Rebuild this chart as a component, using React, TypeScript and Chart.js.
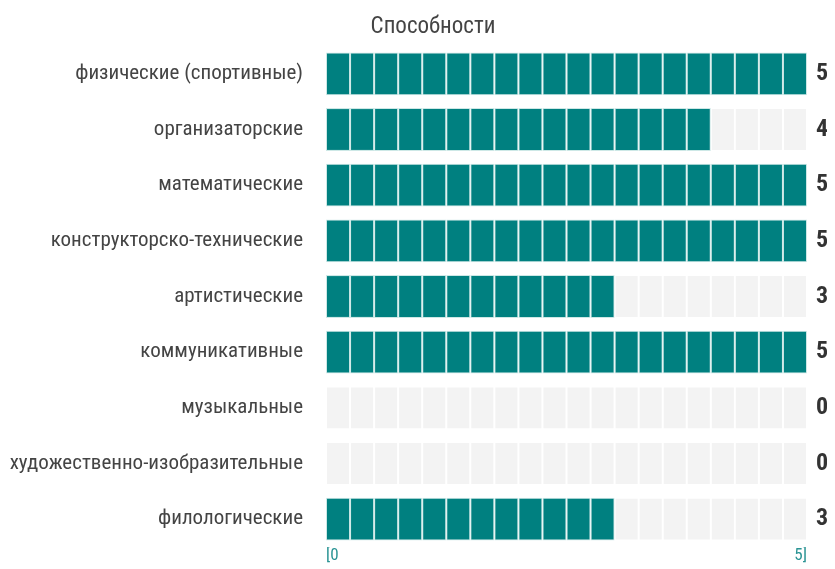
import React, { useEffect, useRef } from "react";
import { Chart, registerables } from "chart.js";
Chart.register(...registerables);

const categories = [
  "физические (спортивные)",
  "организаторские",
  "математические",
  "конструкторско-технические",
  "артистические",
  "коммуникативные",
  "музыкальные",
  "художественно-изобразительные",
  "филологические",
];
const values = [5, 4, 5, 5, 3, 5, 0, 0, 3];
const titleText = "Способности";
const axisMin = 0;
const axisMax = 5;
const cellsPerUnit = 4;

const TEAL = "#008080";
const TEAL_EDGE = "#cde8e6";
const GREY = "#f3f3f3";
const FONT = "'Roboto Condensed', Roboto, sans-serif";

export default function App() {
  const ref = useRef<HTMLCanvasElement>(null);
  useEffect(() => {
    const cells = (axisMax - axisMin) * cellsPerUnit;
    const step = 1 / cellsPerUnit;
    const datasets = [];
    for (let i = 0; i < cells; i++) {
      const filled = values.map((v) => v >= (i + 1) * step - 1e-9);
      datasets.push({
        data: categories.map(() => step),
        backgroundColor: filled.map((f) => (f ? TEAL : GREY)),
        borderColor: filled.map((f) => (f ? TEAL_EDGE : "#ffffff")),
        borderWidth: 1,
        borderSkipped: false as const,
        barPercentage: 0.77,
        categoryPercentage: 1,
      });
    }
    const labelsPlugin = {
      id: "extras",
      afterDatasetsDraw(chart: any) {
        const { ctx, chartArea, scales } = chart;
        ctx.save();
        ctx.fillStyle = "#333333";
        ctx.font = `bold 24px ${FONT}`;
        ctx.textAlign = "center";
        ctx.textBaseline = "middle";
        values.forEach((v, i) => {
          ctx.fillText(String(v), chartArea.right + 15, scales.y.getPixelForValue(i));
        });
        ctx.fillStyle = "#444444";
        ctx.font = `23px ${FONT}`;
        ctx.fillText(titleText, 425, 19);
        ctx.restore();
      },
    };
    const chart = new Chart(ref.current!, {
      type: "bar",
      data: { labels: categories, datasets: datasets as any },
      options: {
        indexAxis: "y",
        animation: false,
        responsive: true,
        maintainAspectRatio: false,
        events: [],
        layout: { padding: { top: 38, right: 20, bottom: 5, left: 0 } },
        plugins: { legend: { display: false }, tooltip: { enabled: false }, title: { display: false } },
        scales: {
          x: {
            stacked: true,
            min: axisMin,
            max: axisMax,
            grid: { display: false, drawTicks: false },
            border: { display: false },
            ticks: {
              stepSize: axisMax - axisMin,
              align: "inner",
              padding: 0,
              maxRotation: 0,
              color: "#2a9494",
              font: { size: 17, lineHeight: 1, family: FONT },
              callback: (v: any) => (v === axisMin ? "[" + axisMin : v === axisMax ? axisMax + "]" : ""),
            },
          },
          y: {
            stacked: true,
            grid: { display: false, drawTicks: false },
            border: { display: false },
            afterFit: (scale: any) => {
              scale.width = 318;
              scale.paddingTop = 0;
              scale.paddingBottom = 0;
            },
            ticks: {
              padding: 23,
              color: "#444444",
              font: { size: 21, family: FONT },
            },
          },
        },
      },
      plugins: [labelsPlugin],
    });
    return () => chart.destroy();
  }, []);
  return (
    <div style={{ position: "relative", width: 819, height: 561 }}>
      <canvas ref={ref} />
    </div>
  );
}
